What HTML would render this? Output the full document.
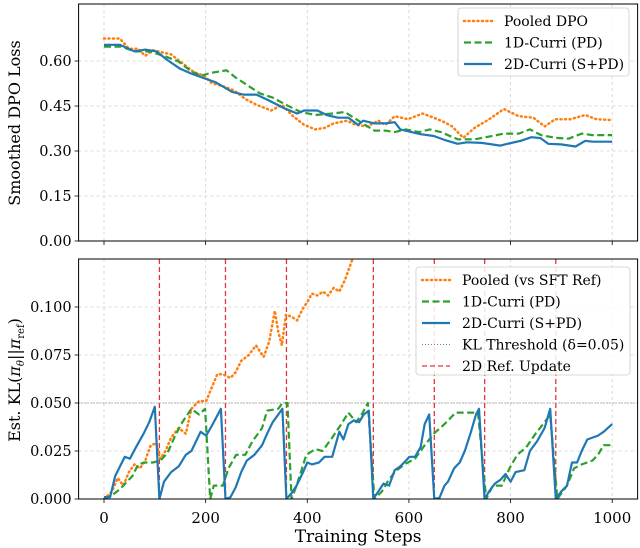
<!DOCTYPE html>
<html><head><meta charset="utf-8"><style>
body{margin:0;background:#fff}
svg{display:block;font-family:"DejaVu Serif","Liberation Serif",serif}
</style></head><body>
<svg id="chart" width="640" height="548" viewBox="0 0 640 548" xmlns="http://www.w3.org/2000/svg"></svg>
<script>
const xTicks=[0,200,400,600,800,1000];
const topTicks=[0.00,0.15,0.30,0.45,0.60];
const topTickLabels=["0.00","0.15","0.30","0.45","0.60"];
const botTicks=[0,0.025,0.05,0.075,0.1];
const botTickLabels=["0.000","0.025","0.050","0.075","0.100"];
const refUpdates=[109,239,359,530,650,749,889];
const klThreshold=0.05;

const lossBlueX=[0,31,60,81,103,125,150,172,201,220,252,274,300,325,354,380,394,420,438,460,481,500,510,532,554,572,583,605,623,649,670,696,714,743,780,794,820,841,859,874,899,928,947,961,1000];
const lossBlueY=[0.654,0.654,0.632,0.638,0.632,0.603,0.574,0.558,0.540,0.529,0.497,0.488,0.488,0.468,0.443,0.425,0.435,0.435,0.420,0.411,0.411,0.387,0.401,0.392,0.392,0.396,0.372,0.363,0.356,0.350,0.337,0.324,0.329,0.327,0.318,0.324,0.334,0.346,0.343,0.324,0.322,0.315,0.334,0.331,0.331];
const lossGreenX=[0,34,60,89,118,147,169,190,209,241,259,285,307,332,358,387,416,449,474,496,514,532,554,572,594,620,641,663,696,729,758,787,816,838,860,888,914,940,961,1000];
const lossGreenY=[0.648,0.648,0.632,0.632,0.617,0.598,0.569,0.550,0.560,0.569,0.545,0.516,0.492,0.478,0.454,0.430,0.420,0.425,0.430,0.406,0.387,0.368,0.368,0.363,0.372,0.363,0.372,0.363,0.339,0.339,0.348,0.358,0.358,0.372,0.353,0.344,0.341,0.358,0.353,0.353];
const lossOrangeX=[0,31,49,67,81,96,132,154,176,198,212,234,256,278,300,329,350,372,394,416,434,452,478,496,518,540,554,572,598,627,649,670,685,707,729,758,787,816,845,867,888,918,947,969,1000];
const lossOrangeY=[0.675,0.675,0.641,0.641,0.617,0.636,0.622,0.593,0.564,0.550,0.526,0.516,0.502,0.473,0.454,0.435,0.454,0.416,0.387,0.372,0.377,0.392,0.401,0.387,0.382,0.401,0.387,0.416,0.406,0.425,0.411,0.396,0.382,0.344,0.377,0.406,0.440,0.416,0.411,0.382,0.406,0.406,0.420,0.406,0.403];

const klBlueX=[0,12,22,41,51,63,78,89,100,109,118,132,147,161,172,190,201,212,230,239,249,259,270,281,296,311,321,332,343,351,359,369,379,390,400,409,423,434,449,463,471,481,492,502,511,521,530,540,550,561,572,583,594,601,612,623,631,640,650,660,670,677,689,700,710,721,732,738,749,758,769,780,790,800,810,827,838,852,867,878,889,900,911,921,931,940,951,961,972,983,1000];
const klBlueY=[0.001,0.001,0.012,0.022,0.021,0.027,0.034,0.040,0.048,0,0.009,0.014,0.017,0.023,0.025,0.035,0.033,0.038,0.047,0,0.001,0.006,0.014,0.020,0.023,0.028,0.034,0.040,0.044,0.047,0,0.003,0.007,0.013,0.019,0.018,0.019,0.022,0.022,0.035,0.031,0.039,0.041,0.040,0.044,0.046,0,0.004,0.008,0.007,0.015,0.017,0.020,0.022,0.022,0.027,0.039,0.044,0,0.0005,0.007,0.009,0.016,0.019,0.025,0.034,0.044,0.047,0,0.004,0.008,0.010,0.013,0.009,0.014,0.015,0.025,0.030,0.037,0.047,0,0.004,0.007,0.019,0.019,0.025,0.031,0.032,0.033,0.035,0.039];
const klGreenX=[0,16,31,45,56,67,81,96,111,125,140,154,172,187,199,209,216,234,245,260,278,292,311,321,343,351,361,369,379,398,416,430,449,467,481,496,507,519,532,547,558,572,591,612,631,649,670,692,714,736,752,765,783,798,813,831,849,867,878,892,911,925,940,961,972,983,1000];
const klGreenY=[0,0.002,0.005,0.009,0.012,0.018,0.019,0.019,0.020,0.024,0.033,0.040,0.047,0.044,0.047,0,0.007,0.007,0.016,0.023,0.023,0.030,0.037,0.046,0.047,0.050,0.050,0,0.007,0.023,0.026,0.025,0.032,0.039,0.045,0.040,0.044,0.050,0,0.004,0.009,0.014,0.018,0.021,0.028,0.034,0.039,0.045,0.045,0.045,0,0.007,0.007,0.016,0.023,0.027,0.034,0.040,0.044,0,0.007,0.016,0.018,0.020,0.023,0.028,0.028];
const klOrangeX=[0,16,27,38,49,60,71,81,92,103,111,121,132,147,161,172,187,201,212,223,234,249,259,270,285,299,314,325,336,343,350,358,369,380,391,401,409,420,431,441,452,463,474,489,496];
const klOrangeY=[0,0.004,0.011,0.007,0.014,0.018,0.016,0.020,0.028,0.029,0.021,0.025,0.032,0.037,0.034,0.047,0.051,0.051,0.058,0.065,0.065,0.063,0.066,0.072,0.075,0.080,0.074,0.082,0.098,0.087,0.080,0.096,0.095,0.093,0.099,0.103,0.107,0.106,0.108,0.106,0.110,0.108,0.114,0.125,0.129];

const NS="http://www.w3.org/2000/svg";
const svg=document.getElementById('chart');
const L=78.6,R=637.6;
const sx=v=>L+(v+50)/1100*(R-L);
const tT=4,tB=241,tMax=0.79;
const syT=v=>tB-v/tMax*(tB-tT);
const bT=259,bB=499,bMax=0.125;
const syB=v=>bB-v/bMax*(bB-bT);
const C={blue:'#1f77b4',green:'#2ca02c',orange:'#ff7f0e',red:'#e2353a'};

function mk(tag,attrs,parent){const e=document.createElementNS(NS,tag);for(const k in attrs)e.setAttribute(k,attrs[k]);(parent||svg).appendChild(e);return e;}
function txt(s,attrs,parent){const e=mk('text',attrs,parent);e.textContent=s;return e;}

function panel(name,top,bot,sy,yt,ytl,showX){
  const g=mk('g',{});
  
  
  const clipId=name+'-clip';
  const cp=mk('clipPath',{id:clipId},g);mk('rect',{x:L,y:top,width:R-L,height:bot-top},cp);
  xTicks.forEach(t=>{const l=mk('line',{x1:sx(t),x2:sx(t),y1:top,y2:bot,stroke:'#d0d0d0','stroke-width':0.8,'stroke-dasharray':'3,3'},g);
    
    mk('line',{x1:sx(t),x2:sx(t),y1:bot,y2:bot+4,stroke:'#000','stroke-width':0.8},g);
    if(showX){const tl=txt(String(t),{x:sx(t),y:bot+24,'font-size':15,'text-anchor':'middle'},g);}
  });
  yt.forEach((t,i)=>{const y=sy(t);const l=mk('line',{x1:L,x2:R,y1:y,y2:y,stroke:'#d0d0d0','stroke-width':0.8,'stroke-dasharray':'3,3'},g);
    
    mk('line',{x1:L-4,x2:L,y1:y,y2:y,stroke:'#000','stroke-width':0.8},g);
    const tl=txt(ytl[i],{x:L-7,y:y+5,'font-size':14.5,'text-anchor':'end'},g);
  });
  const pg=mk('g',{'clip-path':'url(#'+clipId+')'},g);
  return {g,pg,top,bot};
}
function series(p,xs,ys,sy,color,dash,w,name){
  const d=xs.map((x,i)=>(i?'L':'M')+sx(x).toFixed(1)+','+sy(ys[i]).toFixed(1)).join('');
  const a={d:d,fill:'none',stroke:color,'stroke-width':w,'stroke-linejoin':'round'};
  if(dash)a['stroke-dasharray']=dash;
  if(dash==='1,3.5')a['stroke-linecap']='round';
  const e=mk('path',a,p.pg);
  
  
}
function frame(p){const r=mk('rect',{x:L,y:p.top,width:R-L,height:p.bot-p.top,fill:'none',stroke:'#000','stroke-width':1},p.g);
  }
function legend(x,y,w,h,items,name){
  const g=mk('g',{});
  
  
  mk('rect',{x:x,y:y,width:w,height:h,rx:3,fill:'#fff','fill-opacity':0.85,stroke:'#ccc','stroke-width':0.8},g);
  items.forEach((it,i)=>{const yy=y+13+i*21.5;
    const ig=mk('g',{},g);
    
    
    const a={x1:x+6,x2:x+34,y1:yy,y2:yy,stroke:it.c,'stroke-width':it.w};
    if(it.d)a['stroke-dasharray']=it.d;if(it.d==='1,3.5')a['stroke-linecap']='round';
    mk('line',a,ig);
    txt(it.t,{x:x+46,y:yy+5,'font-size':14},ig);
  });
}

// Top panel
const P1=panel('loss-panel',tT,tB,syT,topTicks,topTickLabels,false);
series(P1,lossOrangeX,lossOrangeY,syT,C.orange,'1,3.5',2.5,'pooled-dpo-line');
series(P1,lossGreenX,lossGreenY,syT,C.green,'7,3.5',2.2,'1d-curri-line');
series(P1,lossBlueX,lossBlueY,syT,C.blue,null,2.2,'2d-curri-line');
frame(P1);
legend(458,8,171,68,[{t:'Pooled DPO',c:C.orange,d:'1,3.5',w:2.5},{t:'1D-Curri (PD)',c:C.green,d:'7,3.5',w:2.2},{t:'2D-Curri (S+PD)',c:C.blue,w:2.2}],'loss-legend');
const yl1=txt('Smoothed DPO Loss',{x:0,y:0,'font-size':16,'text-anchor':'middle',transform:'translate(20,123) rotate(-90)'});


// Bottom panel
const P2=panel('kl-panel',bT,bB,syB,botTicks,botTickLabels,true);
const th=mk('line',{x1:L,x2:R,y1:syB(klThreshold),y2:syB(klThreshold),stroke:'#777','stroke-width':1,'stroke-dasharray':'1,2'},P2.pg);

refUpdates.forEach(s=>{const l=mk('line',{x1:sx(s),x2:sx(s),y1:bT,y2:bB,stroke:C.red,'stroke-width':1.3,'stroke-dasharray':'5,3'},P2.pg);
  });
series(P2,klOrangeX,klOrangeY,syB,C.orange,'1,3.5',2.5,'pooled-kl-line');
series(P2,klGreenX,klGreenY,syB,C.green,'7,3.5',2.2,'1d-curri-kl-line');
series(P2,klBlueX,klBlueY,syB,C.blue,null,2.2,'2d-curri-kl-line');
frame(P2);
legend(416,267,214,108,[{t:'Pooled (vs SFT Ref)',c:C.orange,d:'1,3.5',w:2.5},{t:'1D-Curri (PD)',c:C.green,d:'7,3.5',w:2.2},{t:'2D-Curri (S+PD)',c:C.blue,w:2.2},{t:'KL Threshold (\u03B4=0.05)',c:'#777',d:'1,2',w:1},{t:'2D Ref. Update',c:C.red,d:'5,3',w:1.3}],'kl-legend');
const yl2=txt('',{x:0,y:0,'font-size':16,'text-anchor':'middle',transform:'translate(20,380) rotate(-90)'});
yl2.innerHTML='Est. KL(<tspan font-style="italic">\u03C0</tspan><tspan font-size="10" dy="4" font-style="italic">\u03B8</tspan><tspan dy="-4">||</tspan><tspan font-style="italic">\u03C0</tspan><tspan font-size="10" dy="4">ref</tspan><tspan dy="-4">)</tspan>';

const xl=txt('Training Steps',{x:(L+R)/2,y:542,'font-size':17,'text-anchor':'middle'});

</script>
</body></html>
